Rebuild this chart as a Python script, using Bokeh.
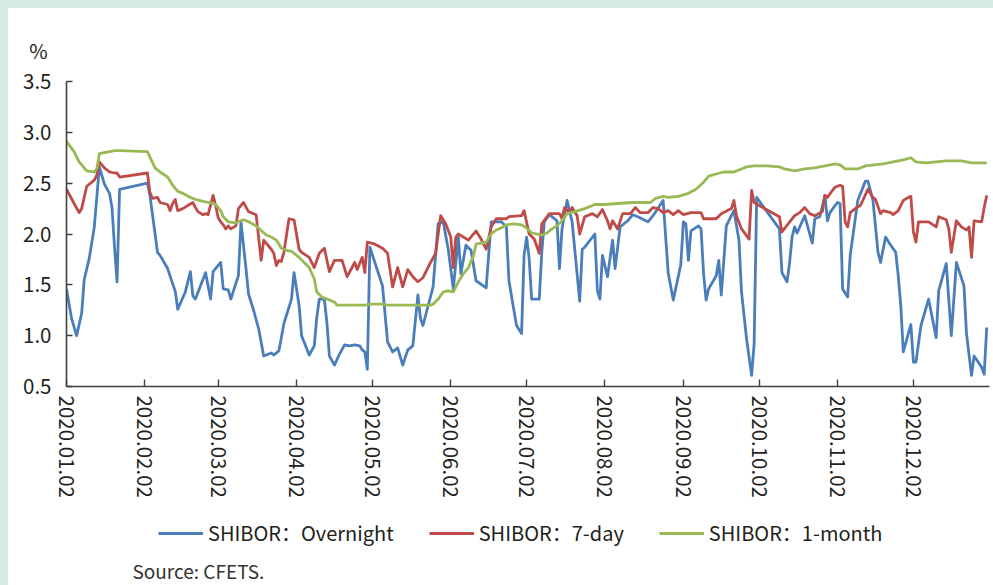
import pandas as pd
from bokeh.plotting import figure
from bokeh.layouts import column
from bokeh.models import (Range1d, FixedTicker, DatetimeTickFormatter, Legend,
                          LegendItem, Label, NumeralTickFormatter)
from bokeh.embed import file_html
from bokeh.resources import INLINE

YEAR = 2020

overnight_dates = ["01-02","01-04","01-06","01-08","01-09","01-11","01-13","01-15","01-17","01-19",
    "01-20","01-21","01-22","01-23","02-03","02-04","02-07","02-08","02-11","02-13","02-14","02-15",
    "02-18","02-20","02-21","02-22","02-26","02-28","02-29","03-03","03-04","03-06","03-07","03-10",
    "03-11","03-13","03-14","03-16","03-18","03-20","03-23","03-24","03-26","03-28","03-31","04-01",
    "04-03","04-04","04-07","04-09","04-10","04-11","04-13","04-14","04-15","04-17","04-19","04-21",
    "04-23","04-25","04-27","04-28","04-29","04-30","05-01","05-06","05-08","05-10","05-12","05-14",
    "05-16","05-18","05-20","05-21","05-22","05-26","05-28","05-30","06-01","06-03","06-05","06-06",
    "06-08","06-10","06-12","06-16","06-18","06-20","06-22","06-24","06-25","06-28","06-30","07-01",
    "07-02","07-03","07-04","07-07","07-08","07-09","07-11","07-14","07-15","07-16","07-18","07-20",
    "07-23","07-24","07-25","07-29","07-30","07-31","08-01","08-03","08-05","08-06","08-08","08-11",
    "08-13","08-15","08-19","08-21","08-25","08-27","08-29","09-01","09-02","09-03","09-04","09-05",
    "09-08","09-09","09-10","09-11","09-12","09-15","09-16","09-17","09-19","09-22","09-24","09-25",
    "09-27","09-29","09-30","10-01","10-10","10-11","10-13","10-14","10-15","10-16","10-17","10-20",
    "10-23","10-24","10-26","10-28","10-29","10-30","11-01","11-02","11-03","11-04","11-06","11-07",
    "11-10","11-13","11-14","11-16","11-18","11-19","11-21","11-23","11-25","11-26","11-27","11-28",
    "12-01","12-02","12-03","12-05","12-08","12-11","12-12","12-15","12-17","12-19","12-22","12-23",
    "12-25","12-26","12-29","12-30","12-31"]
overnight = [1.46,1.17,1.00,1.22,1.55,1.76,2.07,2.66,2.49,2.40,
    2.26,1.87,1.53,2.44,2.50,2.38,1.82,1.79,1.66,1.51,1.44,1.26,
    1.43,1.63,1.39,1.36,1.62,1.36,1.63,1.72,1.46,1.45,1.36,1.59,
    2.12,1.66,1.41,1.25,1.07,0.80,0.83,0.81,0.85,1.12,1.36,1.62,
    1.30,1.00,0.81,0.90,1.18,1.36,1.36,1.13,0.80,0.71,0.82,0.91,
    0.90,0.91,0.90,0.86,0.84,0.67,1.87,1.49,0.94,0.84,0.88,0.71,
    0.86,0.90,1.40,1.17,1.10,1.48,2.10,2.12,1.85,1.46,1.97,1.61,
    1.89,1.84,1.54,1.47,2.12,2.12,2.12,2.07,1.54,1.10,1.02,1.79,
    1.97,1.76,1.36,1.36,1.82,2.12,2.19,2.13,1.66,2.05,2.33,2.12,
    1.34,1.85,1.87,2.00,1.44,1.36,1.79,1.58,1.94,1.66,2.07,2.13,
    2.19,2.17,2.12,2.18,2.33,1.62,1.35,1.70,2.12,2.10,1.74,2.03,
    2.08,2.05,1.61,1.35,1.46,1.59,1.74,1.40,2.08,2.23,1.94,1.43,
    0.97,0.61,0.92,2.36,2.05,1.62,1.53,1.71,1.97,2.07,2.01,2.18,
    1.91,2.15,2.17,2.38,2.13,2.21,2.28,2.31,2.30,1.46,1.38,1.79,
    2.33,2.52,2.52,2.33,1.82,1.72,1.97,1.89,1.82,1.59,1.30,0.84,
    1.11,0.74,0.74,1.10,1.36,0.98,1.44,1.71,1.00,1.72,1.49,1.02,
    0.61,0.80,0.69,0.62,1.08]

day7_dates = ["01-02","01-05","01-07","01-08","01-10","01-13","01-14","01-15","01-17","01-19",
    "01-21","01-22","01-23","02-03","02-04","02-05","02-07","02-08","02-11","02-12","02-13","02-14",
    "02-15","02-17","02-19","02-21","02-22","02-23","02-25","02-26","02-27","02-29","03-01","03-02",
    "03-03","03-04","03-05","03-06","03-07","03-09","03-10","03-12","03-14","03-17","03-19","03-20",
    "03-23","03-24","03-25","03-26","03-27","03-28","03-30","04-01","04-03","04-04","04-07","04-09",
    "04-11","04-13","04-15","04-17","04-20","04-22","04-25","04-26","04-28","04-29","04-30","05-03",
    "05-06","05-08","05-10","05-12","05-14","05-16","05-18","05-20","05-22","05-25","05-27","05-29",
    "05-31","06-02","06-03","06-04","06-05","06-09","06-12","06-14","06-16","06-18","06-20","06-24",
    "06-25","06-30","07-01","07-03","07-05","07-07","07-08","07-11","07-15","07-16","07-17","07-19",
    "07-20","07-22","07-23","07-25","07-28","07-30","08-01","08-03","08-04","08-05","08-07","08-09",
    "08-12","08-14","08-16","08-19","08-21","08-23","08-25","08-27","08-29","08-31","09-02","09-05",
    "09-09","09-10","09-15","09-17","09-21","09-22","09-23","09-25","09-28","09-29","09-30","10-02",
    "10-10","10-11","10-16","10-18","10-20","10-22","10-24","10-27","10-28","10-29","10-31","11-01",
    "11-03","11-04","11-05","11-06","11-07","11-09","11-11","11-12","11-14","11-16","11-17","11-19",
    "11-20","11-23","11-24","11-26","11-28","11-30","12-01","12-02","12-03","12-04","12-08","12-11",
    "12-12","12-15","12-16","12-17","12-19","12-21","12-23","12-24","12-25","12-26","12-29","12-30",
    "12-31"]
day7 = [2.44,2.30,2.21,2.25,2.47,2.53,2.58,2.71,2.65,2.61,
    2.60,2.60,2.56,2.60,2.41,2.35,2.36,2.31,2.29,2.23,2.30,2.34,
    2.23,2.25,2.28,2.31,2.26,2.22,2.19,2.20,2.19,2.38,2.28,2.16,
    2.12,2.09,2.05,2.08,2.05,2.08,2.25,2.31,2.22,2.19,1.74,1.94,
    1.85,1.81,1.69,1.74,1.73,1.82,2.15,2.14,1.85,1.82,1.77,1.67,
    1.81,1.86,1.63,1.74,1.74,1.58,1.72,1.65,1.77,1.62,1.92,1.90,
    1.86,1.81,1.48,1.67,1.48,1.65,1.58,1.53,1.57,1.72,1.81,2.18,
    2.10,1.97,1.67,1.97,2.00,1.94,2.03,1.95,1.85,2.07,2.15,2.15,
    2.17,2.18,2.23,2.00,1.95,1.81,2.10,2.20,2.20,2.15,2.26,2.21,
    2.26,2.18,2.00,2.17,2.20,2.17,2.24,2.13,2.05,2.13,2.05,2.20,
    2.20,2.26,2.21,2.21,2.26,2.25,2.21,2.23,2.19,2.23,2.19,2.21,
    2.21,2.15,2.15,2.20,2.25,2.33,2.18,2.05,1.95,2.43,2.31,2.28,
    2.17,2.02,2.18,2.21,2.26,2.20,2.18,2.22,2.38,2.36,2.43,2.46,
    2.48,2.47,2.12,2.07,2.21,2.25,2.28,2.33,2.44,2.36,2.34,2.20,
    2.23,2.21,2.19,2.23,2.33,2.36,2.37,2.02,1.92,2.12,2.12,2.07,
    2.17,2.14,2.05,1.82,2.13,2.07,2.04,2.07,1.77,2.13,2.12,2.26,
    2.38]

month1_dates = ["01-02","01-05","01-07","01-10","01-13","01-14","01-15","01-17","01-21","01-23",
    "02-03","02-06","02-08","02-11","02-13","02-15","02-17","02-20","02-22","02-25","02-27","02-29",
    "03-01","03-03","03-04","03-06","03-09","03-12","03-14","03-17","03-21","03-23","03-25","03-27",
    "03-29","03-31","04-03","04-05","04-07","04-09","04-10","04-12","04-14","04-17","04-18","04-29",
    "05-01","05-06","05-08","05-25","05-26","05-28","05-30","06-01","06-03","06-05","06-07","06-09",
    "06-11","06-12","06-14","06-16","06-18","06-20","06-22","06-24","06-27","06-30","07-02","07-04",
    "07-08","07-10","07-12","07-14","07-16","07-18","07-21","07-25","07-29","08-02","08-07","08-13",
    "08-20","08-22","08-25","08-27","08-31","09-04","09-07","09-10","09-12","09-15","09-18","09-22",
    "09-25","09-27","09-30","10-05","10-10","10-12","10-16","10-20","10-24","10-28","10-30","11-01",
    "11-03","11-05","11-10","11-13","11-20","11-24","11-28","12-01","12-03","12-07","12-15","12-21",
    "12-25","12-31"]
month1 = [2.91,2.81,2.71,2.62,2.61,2.64,2.79,2.80,2.82,2.82,
    2.81,2.65,2.61,2.56,2.48,2.42,2.40,2.36,2.34,2.32,2.31,2.30,
    2.29,2.23,2.17,2.12,2.11,2.14,2.12,2.08,1.99,1.97,1.94,1.86,
    1.84,1.83,1.77,1.72,1.67,1.56,1.43,1.38,1.36,1.33,1.30,1.30,
    1.31,1.31,1.30,1.30,1.31,1.36,1.43,1.44,1.43,1.53,1.61,1.67,
    1.79,1.90,1.91,1.92,2.00,2.04,2.06,2.09,2.10,2.09,2.06,2.01,
    1.99,2.01,2.05,2.08,2.13,2.20,2.22,2.25,2.29,2.29,2.30,2.31,
    2.31,2.35,2.37,2.36,2.37,2.40,2.44,2.51,2.57,2.59,2.61,2.61,
    2.64,2.66,2.67,2.67,2.66,2.64,2.62,2.64,2.65,2.67,2.68,2.69,
    2.68,2.64,2.64,2.67,2.69,2.71,2.73,2.75,2.71,2.70,2.72,2.72,
    2.70,2.70]

tick_dates = ["01-02","02-02","03-02","04-02","05-02","06-02","07-02","08-02",
              "09-02","10-02","11-02","12-02"]
y_ticks = [0.5, 1.0, 1.5, 2.0, 2.5, 3.0, 3.5]
series_names = ["SHIBOR\uff1aOvernight", "SHIBOR\uff1a7-day", "SHIBOR\uff1a1-month"]
series_colors = ["#4a7ebb", "#be4b48", "#98b954"]
unit_text = "%"
source_text = "Source: CFETS."

FONT = "Noto Sans CJK SC"
TXT = "#231f20"
W = 985


def to_dt(lst):
    return pd.to_datetime([f"{YEAR}-{s}" for s in lst])


series = [(overnight_dates, overnight), (day7_dates, day7), (month1_dates, month1)]


def blank_fig(h):
    f = figure(width=W, height=h, output_backend="svg", toolbar_location=None,
               x_range=Range1d(0, W), y_range=Range1d(0, h),
               x_axis_location=None, y_axis_location=None,
               min_border_left=0, min_border_right=0, min_border_top=0,
               min_border_bottom=0)
    f.frame_align = False
    f.outline_line_color = None
    f.grid.visible = False
    f.background_fill_color = "white"
    f.border_fill_color = "white"
    return f


# ---- top strip with the unit label ----
top = blank_fig(58)
top.add_layout(Label(x=30, y=16.5, text=unit_text, text_align="center",
                     text_baseline="middle", text_font=FONT, text_font_size="20px",
                     text_color=TXT))

# ---- main chart ----
x_start = pd.Timestamp(f"{YEAR}-01-02")
x_end = x_start + pd.Timedelta(days=365.1)

p = figure(width=W, height=439, output_backend="svg", toolbar_location=None,
           x_axis_type="datetime",
           x_range=Range1d(x_start, x_end), y_range=Range1d(0.5, 3.5),
           min_border_left=58, min_border_right=4, min_border_top=15,
           min_border_bottom=119)
p.frame_align = False
p.outline_line_color = None
p.grid.visible = False
p.background_fill_color = "white"
p.border_fill_color = "white"

for (dates, vals), col in zip(series, series_colors):
    p.line(to_dt(dates), vals, line_width=2.8, color=col, line_join="round")

ticks_ms = [t.value / 1e6 for t in to_dt(tick_dates)]
p.xaxis.ticker = FixedTicker(ticks=ticks_ms)
fmt = "%Y.%m.%d"
p.xaxis.formatter = DatetimeTickFormatter(years=fmt, months=fmt, days=fmt, hours=fmt,
                                          hourmin=fmt, minutes=fmt, minsec=fmt,
                                          seconds=fmt, milliseconds=fmt,
                                          microseconds=fmt)
p.xaxis.major_label_orientation = "vertical"
p.yaxis.ticker = FixedTicker(ticks=y_ticks)
p.yaxis.formatter = NumeralTickFormatter(format="0.0")

for ax in (p.xaxis[0], p.yaxis[0]):
    ax.axis_line_color = "#404040"
    ax.axis_line_width = 1.6
    ax.major_tick_line_color = "#404040"
    ax.major_tick_line_width = 1.4
    ax.major_tick_out = 0
    ax.minor_tick_line_color = None
    ax.major_label_text_font = FONT
    ax.major_label_text_font_size = "20.5px"
    ax.major_label_text_color = TXT
p.xaxis.major_tick_in = 7
p.yaxis.major_tick_in = 6
p.xaxis.major_label_standoff = 9
p.yaxis.major_label_standoff = 15

# ---- bottom strip with legend and source ----
bot = blank_fig(80)
# legend proxies: same series, far outside this strip's pixel ranges
leg_renderers = [bot.line(to_dt(dates), vals, line_width=3, color=col)
                 for (dates, vals), col in zip(series, series_colors)]
legend = Legend(items=[LegendItem(label=n, renderers=[r]) for n, r in zip(series_names, leg_renderers)],
                orientation="horizontal", location=(150, 38),
                label_text_font=FONT, label_text_font_size="20px", label_text_color=TXT,
                glyph_width=45, glyph_height=22, label_standoff=5, spacing=35,
                padding=0, margin=0, border_line_color=None, background_fill_alpha=0)
bot.add_layout(legend, "center")
bot.add_layout(Label(x=124, y=15, text=source_text, text_align="left",
                     text_baseline="middle", text_font=FONT, text_font_size="19px",
                     text_color="#333333"))

layout = column(top, p, bot, spacing=0, styles={"background-color": "white"})

TEMPLATE = """{% block preamble %}<style>
html, body { background: #d7ebe2 !important; margin: 0 !important; }
body { padding: 8px 0 0 8px !important; box-sizing: border-box !important; }
</style>{% endblock %}"""

open("out.html", "w").write(file_html(layout, INLINE, template=TEMPLATE))
